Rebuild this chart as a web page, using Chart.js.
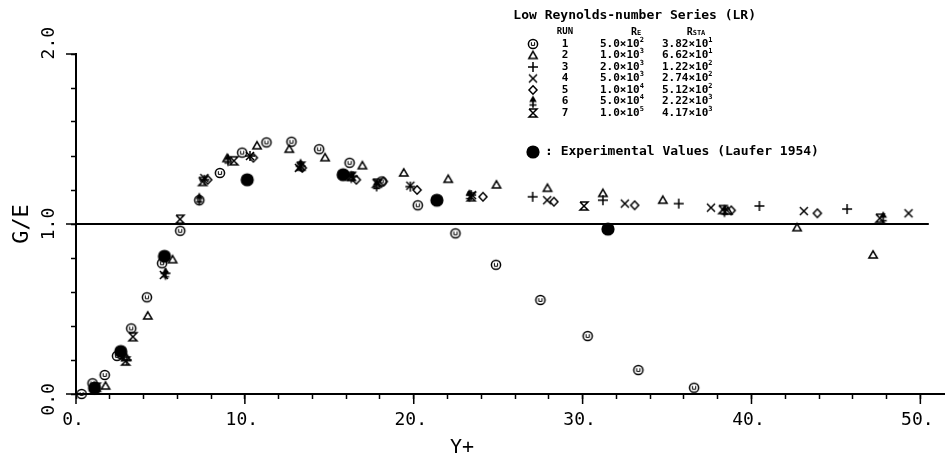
<!DOCTYPE html>
<html>
<head>
<meta charset="utf-8">
<script src="https://cdn.jsdelivr.net/npm/chart.js@4.4.1/dist/chart.umd.min.js"></script>
<style>
  html, body { margin: 0; padding: 0; background: #fff; }
</style>
</head>
<body>
<canvas id="grafico" width="950" height="462"></canvas>
<script>
// LR series, G/E against Y+
const run1X = [0.33, 0.98, 1.7, 2.43, 3.27, 4.2, 5.1, 6.17, 7.3, 8.52, 9.84, 11.28, 12.76, 14.4, 16.2, 18.1, 20.24, 22.47, 24.87, 27.5, 30.3, 33.3, 36.6]
const run1Y = [0.0, 0.063, 0.112, 0.224, 0.386, 0.569, 0.769, 0.96, 1.14, 1.30, 1.42, 1.48, 1.484, 1.44, 1.36, 1.25, 1.11, 0.945, 0.76, 0.553, 0.341, 0.141, 0.037]

const run2X = [1.75, 2.98, 4.25, 5.72, 8.95, 10.72, 12.63, 14.75, 16.96, 19.41, 22.04, 24.9, 27.92, 31.2, 34.75, 38.6, 42.7, 47.2]
const run2Y = [0.047, 0.214, 0.459, 0.79, 1.385, 1.46, 1.44, 1.39, 1.343, 1.30, 1.263, 1.23, 1.21, 1.18, 1.14, 1.076, 0.978, 0.818]

const run3X = [1.1, 3.0, 5.3, 7.6, 10.3, 13.3, 16.4, 19.8, 23.4, 27.04, 31.2, 35.69, 40.47, 45.66]
const run3Y = [0.03, 0.2, 0.71, 1.26, 1.40, 1.34, 1.28, 1.22, 1.17, 1.16, 1.14, 1.12, 1.106, 1.088]

const run4X = [5.2, 7.6, 10.3, 13.2, 16.3, 17.9, 19.8, 23.45, 27.9, 32.5, 37.6, 43.1, 49.3]
const run4Y = [0.70, 1.27, 1.40, 1.33, 1.28, 1.24, 1.225, 1.17, 1.14, 1.12, 1.096, 1.076, 1.063]

const run5X = [7.8, 10.5, 13.4, 16.6, 18.2, 20.2, 24.1, 28.3, 33.08, 38.8, 43.9]
const run5Y = [1.26, 1.39, 1.33, 1.26, 1.25, 1.20, 1.16, 1.131, 1.11, 1.08, 1.063]

const run6X = [1.1, 2.7, 5.3, 7.3, 9.0, 13.3, 16.3, 17.8, 23.3, 38.4, 47.8]
const run6Y = [0.035, 0.23, 0.71, 1.15, 1.38, 1.35, 1.28, 1.23, 1.17, 1.08, 1.04]

const run7X = [1.2, 2.94, 3.37, 6.16, 7.5, 9.35, 13.3, 16.3, 17.8, 23.4, 30.08, 38.3, 47.6]
const run7Y = [0.04, 0.194, 0.337, 1.028, 1.25, 1.372, 1.34, 1.28, 1.24, 1.16, 1.106, 1.085, 1.034]

// experimental values (Laufer 1954)
const expX = [1.1, 2.65, 5.24, 10.14, 15.82, 21.37, 31.5]
const expY = [0.035, 0.25, 0.81, 1.26, 1.29, 1.14, 0.97]

// reference line G/E = 1
const refX = [0, 50.5]
const refY = [1, 1]

// legend table
const runNumbers = ['1', '2', '3', '4', '5', '6', '7']
const reMant = ['5.0', '1.0', '2.0', '5.0', '1.0', '5.0', '1.0']
const reExp = ['2', '3', '3', '3', '4', '4', '5']
const rstaMant = ['3.82', '6.62', '1.22', '2.74', '5.12', '2.22', '4.17']
const rstaExp = ['1', '1', '2', '2', '2', '3', '3']

const FONTE = "'DejaVu Sans Mono', monospace"
Chart.defaults.font.family = FONTE
Chart.defaults.color = '#000'

const pts = (xs, ys) => xs.map((x, i) => ({x: x, y: ys[i]}))

// plotter style symbols
function simbolo(tipo) {
    const c = document.createElement('canvas')
    c.width = 16; c.height = 16
    const g = c.getContext('2d')
    g.strokeStyle = '#000'; g.fillStyle = '#000'; g.lineWidth = 1.5
    g.beginPath()
    if (tipo === 'circ') {
        g.arc(8, 8, 4.6, 0, Math.PI * 2); g.stroke()
        g.beginPath(); g.lineWidth = 1
        g.moveTo(6.4, 6.2); g.lineTo(6.4, 9.4); g.lineTo(9.6, 9.4); g.lineTo(9.6, 6.2); g.stroke()
    } else if (tipo === 'tri') {
        g.moveTo(8, 3.8); g.lineTo(12.2, 11); g.lineTo(3.8, 11); g.closePath(); g.stroke()
    } else if (tipo === 'plus') {
        g.moveTo(3, 8); g.lineTo(13, 8); g.moveTo(8, 3); g.lineTo(8, 13); g.stroke()
    } else if (tipo === 'cruz') {
        g.moveTo(4, 4); g.lineTo(12, 12); g.moveTo(12, 4); g.lineTo(4, 12); g.stroke()
    } else if (tipo === 'diam') {
        g.moveTo(8, 3.8); g.lineTo(12, 8); g.lineTo(8, 12.2); g.lineTo(4, 8); g.closePath(); g.stroke()
    } else if (tipo === 'seta') {
        g.moveTo(8, 2); g.lineTo(11.8, 8.5); g.lineTo(4.2, 8.5); g.closePath(); g.fill()
        g.beginPath(); g.moveTo(8, 8); g.lineTo(8, 14.5); g.moveTo(4.5, 11.5); g.lineTo(11.5, 11.5); g.stroke()
    } else if (tipo === 'ampulheta') {
        g.moveTo(4, 4); g.lineTo(12, 4); g.lineTo(4, 12); g.lineTo(12, 12); g.lineTo(4, 4); g.stroke()
    } else if (tipo === 'exp') {
        g.arc(8, 8, 6.6, 0, Math.PI * 2); g.fill()
    }
    return c
}

const simbolos = ['circ', 'tri', 'plus', 'cruz', 'diam', 'seta', 'ampulheta'].map(simbolo)
const simboloExp = simbolo('exp')

const serie = (dados, sym) => ({
    type: 'scatter', data: dados, pointStyle: sym, pointRadius: 5,
    pointHoverRadius: 5, showLine: false, clip: false, order: 1
})

// R with small-caps index, as in the plotter header
function cabecalho(ctx, resto, cx, y) {
    ctx.font = 'bold 10px ' + FONTE
    const w1 = ctx.measureText('R').width
    ctx.font = 'bold 7px ' + FONTE
    const w2 = ctx.measureText(resto).width
    const x0 = cx - (w1 + w2) / 2
    ctx.textAlign = 'left'
    ctx.font = 'bold 10px ' + FONTE
    ctx.fillText('R', x0, y)
    ctx.font = 'bold 7px ' + FONTE
    ctx.fillText(resto, x0 + w1, y + 1)
}

// texts drawn on top: legend block, Y+ title, long ticks
const extras = {
    id: 'extras',
    afterDraw(chart) {
        const ctx = chart.ctx
        const xs = chart.scales.x, ys = chart.scales.y
        const area = chart.chartArea
        ctx.save()
        ctx.strokeStyle = '#000'; ctx.lineWidth = 1.5
        ctx.beginPath()
        for (let v = 0; v <= 50; v += 10) {
            const p = xs.getPixelForValue(v)
            ctx.moveTo(p, area.bottom); ctx.lineTo(p, area.bottom + 10)
        }
        for (let v = 0; v <= 2; v += 1) {
            const p = ys.getPixelForValue(v)
            ctx.moveTo(area.left - 10, p); ctx.lineTo(area.left, p)
        }
        ctx.stroke()

        ctx.fillStyle = '#000'
        ctx.textBaseline = 'middle'
        ctx.font = '20px ' + FONTE
        ctx.textAlign = 'center'
        ctx.fillText('Y+', 462, 448)

        ctx.font = 'bold 13px ' + FONTE
        ctx.textAlign = 'right'
        ctx.fillText('Low Reynolds-number Series (LR)', 756, 16)

        ctx.font = 'bold 9px ' + FONTE
        ctx.textAlign = 'center'
        ctx.fillText('RUN', 565, 32)
        cabecalho(ctx, 'E', 636, 32)
        cabecalho(ctx, 'STA', 696, 32)

        for (let i = 0; i < runNumbers.length; i++) {
            const y = 44 + 11.5 * i
            ctx.drawImage(simbolos[i], 533 - 8, y - 8)
            ctx.font = 'bold 11px ' + FONTE
            ctx.textAlign = 'center'
            ctx.fillText(runNumbers[i], 565, y)
            ctx.textAlign = 'left'
            let t = reMant[i] + '×10'
            ctx.fillText(t, 600, y)
            let w = ctx.measureText(t).width
            ctx.font = 'bold 7px ' + FONTE
            ctx.fillText(reExp[i], 600 + w, y - 4)
            ctx.font = 'bold 11px ' + FONTE
            t = rstaMant[i] + '×10'
            ctx.fillText(t, 662, y)
            w = ctx.measureText(t).width
            ctx.font = 'bold 7px ' + FONTE
            ctx.fillText(rstaExp[i], 662 + w, y - 4)
        }

        ctx.drawImage(simboloExp, 533 - 8, 152 - 8)
        ctx.font = 'bold 13px ' + FONTE
        ctx.textAlign = 'left'
        ctx.fillText(': Experimental Values (Laufer 1954)', 545, 152)
        ctx.restore()
    }
}

const grafico = new Chart(document.getElementById('grafico'), {
    data: {
        datasets: [
            {
                type: 'line', data: pts(refX, refY), borderColor: '#000', borderWidth: 2,
                pointRadius: 0, fill: false, order: 5
            },
            serie(pts(run1X, run1Y), simbolos[0]),
            serie(pts(run2X, run2Y), simbolos[1]),
            serie(pts(run3X, run3Y), simbolos[2]),
            serie(pts(run4X, run4Y), simbolos[3]),
            serie(pts(run5X, run5Y), simbolos[4]),
            serie(pts(run6X, run6Y), simbolos[5]),
            serie(pts(run7X, run7Y), simbolos[6]),
            serie(pts(expX, expY), simboloExp)
        ]
    },
    options: {
        responsive: false,
        animation: false,
        devicePixelRatio: 1,
        layout: { padding: { top: 54, right: 0, left: 0, bottom: 0 } },
        scales: {
            x: {
                type: 'linear', position: 'bottom', min: 0, max: 51.4,
                afterFit: (s) => { s.height = 68 },
                border: { color: '#000', width: 2 },
                grid: { drawOnChartArea: false, drawTicks: true, tickLength: 5, tickColor: '#000', tickWidth: 1.5 },
                ticks: {
                    stepSize: 2, includeBounds: false, autoSkip: false, maxRotation: 0,
                    padding: 11, labelOffset: -3,
                    font: { size: 18 },
                    callback: (v) => (v % 10 === 0 ? v + '.' : '')
                }
            },
            y: {
                type: 'linear', position: 'left', min: 0, max: 2,
                afterFit: (s) => { s.width = 76 },
                border: { color: '#000', width: 2 },
                grid: { drawOnChartArea: false, drawTicks: true, tickLength: 5, tickColor: '#000', tickWidth: 1.5 },
                ticks: {
                    stepSize: 0.2, autoSkip: false, minRotation: 90, maxRotation: 90,
                    crossAlign: 'center', padding: -5,
                    font: { size: 18 },
                    callback: (v) => {
                        if (Math.abs(v - Math.round(v)) > 1e-6) return ''
                        const r = Math.round(v)
                        if (r === 2) return '  2.0'
                        if (r === 0) return '0.0 '
                        return '1.0'
                    }
                },
                title: { display: true, text: 'G/E', font: { size: 22 }, padding: { top: 9, bottom: 0 } }
            }
        },
        plugins: {
            legend: { display: false },
            tooltip: { enabled: false }
        }
    },
    plugins: [extras]
})
</script>
</body>
</html>
